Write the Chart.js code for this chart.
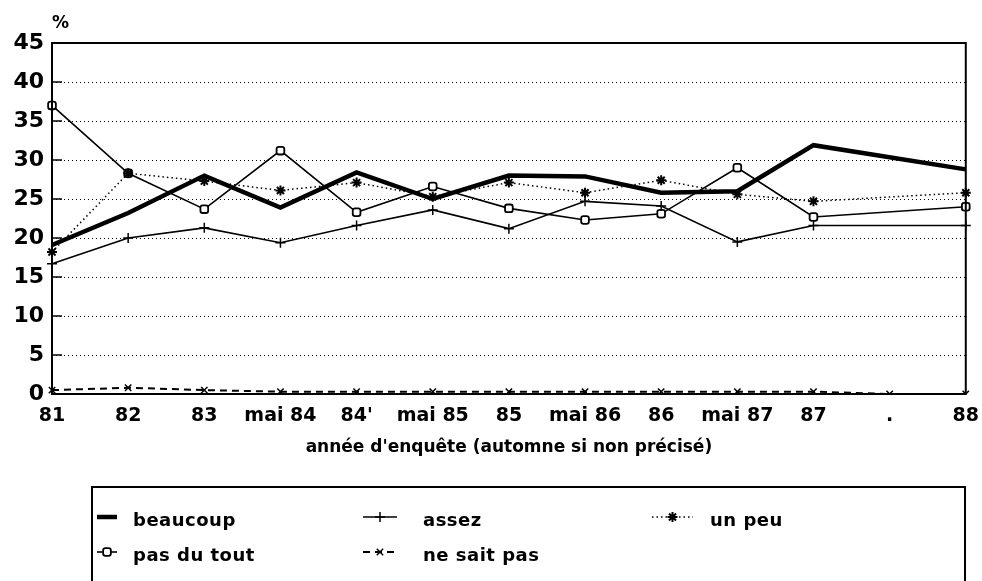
<!DOCTYPE html>
<html lang="fr">
<head>
<meta charset="utf-8">
<title>Réponses par année d'enquête</title>
<script src="https://cdn.jsdelivr.net/npm/chart.js@4.4.0/dist/chart.umd.min.js"></script>
<style>
    html, body { margin: 0; padding: 0; background: #fff; }
    #wrap { width: 982px; height: 581px; }
</style>
</head>
<body>
<div id="wrap"><canvas id="chart" width="982" height="581"></canvas></div>
<script>
// années d'enquête (automne si non précisé)
const years = ['81', '82', '83', 'mai 84', "84'", 'mai 85', '85', 'mai 86', '86', 'mai 87', '87', '.', '88'];
const yTicks = [0, 5, 10, 15, 20, 25, 30, 35, 40, 45];

// réponses, en %
const beaucoup = [19.1, 23.2, 28.0, 23.9, 28.4, 25.0, 28.0, 27.9, 25.8, 26.0, 31.9, null, 28.8];
const assez = [16.7, 20.0, 21.3, 19.4, 21.6, 23.6, 21.2, 24.7, 24.1, 19.5, 21.6, null, 21.6];
const unPeu = [18.2, 28.3, 27.3, 26.1, 27.1, 25.3, 27.1, 25.8, 27.4, 25.6, 24.7, null, 25.8];
const pasDuTout = [37.0, 28.3, 23.7, 31.2, 23.3, 26.6, 23.8, 22.3, 23.1, 29.0, 22.7, null, 24.0];
const neSaitPas = [0.5, 0.8, 0.5, 0.3, 0.3, 0.3, 0.3, 0.3, 0.3, 0.3, 0.3, 0.0, 0.0];

const FONT = '"DejaVu Sans", "Liberation Sans", Arial, sans-serif';

// Solid frame around the plot + short inner ticks on the value axis
const framePlugin = {
    id: 'frame',
    afterDatasetsDraw(chart) {
        const { ctx, chartArea: a, scales } = chart;
        ctx.save();
        ctx.strokeStyle = '#000';
        ctx.lineWidth = 2;
        ctx.strokeRect(a.left, a.top, a.right - a.left, a.bottom - a.top);
        ctx.lineWidth = 1.5;
        yTicks.forEach(v => {
            const y = scales.y.getPixelForValue(v);
            ctx.beginPath();
            ctx.moveTo(a.left, y);
            ctx.lineTo(a.left + 10, y);
            ctx.stroke();
        });
        ctx.restore();
    }
};

// Boxed legend in three columns, like the original figure
const boxLegend = {
    id: 'boxLegend',
    afterDraw(chart, args, opts) {
        const ctx = chart.ctx;
        ctx.save();
        ctx.strokeStyle = '#000';
        ctx.lineWidth = 2;
        ctx.strokeRect(opts.box.x, opts.box.y, opts.box.w, opts.box.h);

        chart.data.datasets.forEach((ds, i) => {
            const it = opts.items[i];
            ctx.strokeStyle = '#000';
            ctx.lineWidth = ds.borderWidth;
            ctx.setLineDash(ds.borderDash || []);
            ctx.beginPath();
            ctx.moveTo(it.x, it.y);
            ctx.lineTo(it.x + it.w, it.y);
            ctx.stroke();
            ctx.setLineDash([]);
            if (ds.pointRadius > 0) {
                ctx.lineWidth = ds.pointBorderWidth;
                ctx.fillStyle = ds.pointBackgroundColor;
                Chart.helpers.drawPoint(ctx, {
                    pointStyle: ds.pointStyle,
                    radius: ds.pointRadius,
                    borderWidth: ds.pointBorderWidth,
                    rotation: 0
                }, it.x + it.w / 2, it.y);
            }
            ctx.fillStyle = '#000';
            ctx.font = 'bold 18px ' + FONT;
            ctx.letterSpacing = '0.5px';
            ctx.textBaseline = 'middle';
            ctx.fillText(ds.label, it.tx, it.y + 4);
        });
        ctx.restore();
    }
};

new Chart(document.getElementById('chart'), {
    type: 'line',
    data: {
        labels: years,
        datasets: [
            {
                label: 'beaucoup',
                data: beaucoup,
                borderColor: '#000',
                borderWidth: 4.5,
                pointRadius: 0
            },
            {
                label: 'assez',
                data: assez,
                borderColor: '#000',
                borderWidth: 1.6,
                pointStyle: 'cross',
                pointRadius: 5,
                pointBorderWidth: 1.5,
                pointBorderColor: '#000',
                pointBackgroundColor: '#000'
            },
            {
                label: 'un peu',
                data: unPeu,
                borderColor: '#000',
                borderWidth: 1.5,
                borderDash: [1.5, 3],
                pointStyle: 'star',
                pointRadius: 5,
                pointBorderWidth: 2,
                pointBorderColor: '#000',
                pointBackgroundColor: '#000'
            },
            {
                label: 'pas du tout',
                data: pasDuTout,
                borderColor: '#000',
                borderWidth: 1.6,
                pointStyle: 'rectRounded',
                pointRadius: 4.5,
                pointBorderWidth: 1.8,
                pointBorderColor: '#000',
                pointBackgroundColor: '#fff'
            },
            {
                label: 'ne sait pas',
                data: neSaitPas,
                borderColor: '#000',
                borderWidth: 2,
                borderDash: [7, 5],
                pointStyle: 'crossRot',
                pointRadius: 4.5,
                pointBorderWidth: 1.5,
                pointBorderColor: '#000',
                pointBackgroundColor: '#000'
            }
        ]
    },
    options: {
        responsive: false,
        animation: false,
        spanGaps: true,
        layout: {
            padding: { left: 0, right: 14, top: 0, bottom: 0 }
        },
        scales: {
            x: {
                type: 'category',
                offset: false,
                grid: { display: false },
                border: { display: false },
                ticks: {
                    autoSkip: false,
                    maxRotation: 0,
                    padding: 3,
                    color: '#000',
                    font: { family: FONT, size: 19, weight: 'bold' }
                },
                title: {
                    display: true,
                    text: "année d'enquête (automne si non précisé)",
                    color: '#000',
                    font: { family: FONT, size: 17, weight: 'bold' },
                    padding: { top: 0, bottom: 123 }
                },
                afterFit(scale) {
                    scale.height = 187;
                }
            },
            y: {
                min: 0,
                max: 45,
                grid: {
                    color: '#000',
                    lineWidth: 1,
                    drawTicks: false
                },
                border: { display: false, dash: [1, 3] },
                ticks: {
                    stepSize: 5,
                    padding: 8,
                    color: '#000',
                    font: { family: FONT, size: 22, weight: 'bold' }
                },
                afterFit(scale) {
                    scale.width = 52;
                }
            }
        },
        plugins: {
            legend: { display: false },
            tooltip: { enabled: false },
            title: {
                display: true,
                text: '%',
                align: 'start',
                fullSize: false,
                color: '#000',
                font: { family: FONT, size: 17, weight: 'bold' },
                padding: { top: 13, bottom: 9.6 }
            },
            boxLegend: {
                box: { x: 92, y: 487, w: 873, h: 110 },
                items: [
                    { x: 97, w: 20, y: 517, tx: 133 },
                    { x: 363, w: 34, y: 517, tx: 423 },
                    { x: 652, w: 41, y: 517, tx: 710 },
                    { x: 97, w: 20, y: 552, tx: 133 },
                    { x: 363, w: 34, y: 552, tx: 423 }
                ]
            }
        }
    },
    plugins: [framePlugin, boxLegend]
});
</script>
</body>
</html>
